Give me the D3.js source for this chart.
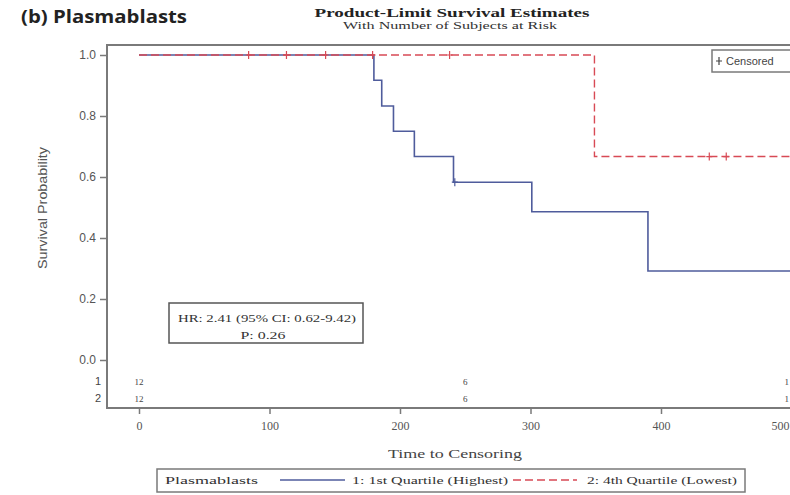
<!DOCTYPE html>
<html>
<head>
<meta charset="utf-8">
<script src="https://cdn.jsdelivr.net/npm/d3@7"></script>
<style>
  html, body { margin: 0; padding: 0; background: #fff; }
  svg { display: block; }
</style>
</head>
<body>
<svg id="chart" width="790" height="495"></svg>
<script>
// Kaplan-Meier step data (time, survival) per group
const group1Times = [0, 180, 186, 195, 211, 241, 301, 390, 520];
const group1Surv  = [1.0, 0.917, 0.833, 0.75, 0.667, 0.583, 0.486, 0.292, 0.292];
const group2Times = [0, 349, 520];
const group2Surv  = [1.0, 0.667, 0.667];

// censored observations
const group1CensorTimes = [242];
const group1CensorSurv  = [0.583];
const group2CensorTimes = [84, 113, 143, 179, 238, 437, 450];
const group2CensorSurv  = [1.0, 1.0, 1.0, 1.0, 1.0, 0.667, 0.667];

// numbers at risk
const riskTimes  = [0, 250, 500];
const riskGroup1 = ["12", "6", "1"];
const riskGroup2 = ["12", "6", "1"];

const xTicks = [0, 100, 200, 300, 400, 500];
const yTicks = [0.0, 0.2, 0.4, 0.6, 0.8, 1.0];

const groupLabels = ["1: 1st Quartile (Highest)", "2: 4th Quartile (Lowest)"];
const blue = "#4f5c9c";
const red  = "#d84a55";
const frameColor = "#7a7a7a";

const svg = d3.select("#chart");

const x = d3.scaleLinear().domain([0, 500]).range([139, 791.5]);
const y = d3.scaleLinear().domain([0, 1]).range([360, 55]);

const frameLeft = 107, frameTop = 45, frameBottom = 408, frameRight = 830;
const edge = 789; // labels at the last tick are kept inside the page

// plot frame
svg.append("rect")
  .attr("x", frameLeft).attr("y", frameTop)
  .attr("width", frameRight - frameLeft).attr("height", frameBottom - frameTop)
  .attr("fill", "none").attr("stroke", frameColor).attr("stroke-width", 2);

// y axis
const yAxis = d3.axisLeft(y).tickValues(yTicks).tickFormat(d3.format(".1f")).tickSize(7).tickPadding(4);
const gy = svg.append("g").attr("transform", `translate(${frameLeft},0)`).call(yAxis);
gy.select(".domain").remove();
gy.selectAll(".tick line").attr("stroke", frameColor).attr("stroke-width", 1.5);
gy.selectAll(".tick text").attr("fill", "#555").style("font-family", "Liberation Sans, Arial, sans-serif").style("font-size", "12px");

// x axis
const xAxis = d3.axisBottom(x).tickValues(xTicks).tickSize(6).tickPadding(7);
const gx = svg.append("g").attr("transform", `translate(0,${frameBottom})`).call(xAxis);
gx.select(".domain").remove();
gx.selectAll(".tick line").attr("stroke", frameColor).attr("stroke-width", 1.5);
gx.selectAll(".tick text").attr("fill", "#555").style("font-family", "Liberation Serif, serif").style("font-size", "12px");
gx.selectAll(".tick").filter(d => x(d) > edge - 12).select("text")
  .attr("text-anchor", "end").attr("x", edge - x(500));

// axis titles
svg.append("text")
  .attr("transform", "translate(47,208) rotate(-90)")
  .attr("text-anchor", "middle")
  .attr("fill", "#555")
  .attr("textLength", 122).attr("lengthAdjust", "spacingAndGlyphs")
  .style("font-family", "Liberation Sans, Arial, sans-serif")
  .style("font-size", "13px")
  .text("Survival Probability");

svg.append("text")
  .attr("x", 455).attr("y", 458)
  .attr("text-anchor", "middle")
  .attr("fill", "#444")
  .attr("textLength", 134).attr("lengthAdjust", "spacingAndGlyphs")
  .style("font-family", "Liberation Serif, serif")
  .style("font-size", "12px")
  .text("Time to Censoring");

// titles
svg.append("text")
  .attr("x", 21).attr("y", 23)
  .attr("fill", "#222")
  .attr("textLength", 166).attr("lengthAdjust", "spacingAndGlyphs")
  .style("font-family", "Open Sans, sans-serif")
  .style("font-weight", "bold")
  .style("font-size", "18px")
  .text("(b) Plasmablasts");

svg.append("text")
  .attr("x", 452).attr("y", 17)
  .attr("text-anchor", "middle")
  .attr("fill", "#222")
  .attr("textLength", 275).attr("lengthAdjust", "spacingAndGlyphs")
  .style("font-family", "Liberation Serif, serif")
  .style("font-weight", "bold")
  .style("font-size", "13px")
  .text("Product-Limit Survival Estimates");

svg.append("text")
  .attr("x", 450).attr("y", 29)
  .attr("text-anchor", "middle")
  .attr("fill", "#333")
  .attr("textLength", 214).attr("lengthAdjust", "spacingAndGlyphs")
  .style("font-family", "Liberation Serif, serif")
  .style("font-size", "10px")
  .text("With Number of Subjects at Risk");

// clip survival curves to plot area
svg.append("clipPath").attr("id", "plotClip")
  .append("rect").attr("x", frameLeft).attr("y", frameTop)
  .attr("width", frameRight - frameLeft).attr("height", frameBottom - frameTop);

const plot = svg.append("g").attr("clip-path", "url(#plotClip)");

const stepLine = d3.line().x(d => x(d[0])).y(d => y(d[1])).curve(d3.curveStepAfter);

const g1 = group1Times.map((t, i) => [t, group1Surv[i]]);
const g2 = group2Times.map((t, i) => [t, group2Surv[i]]);

plot.append("path").datum(g1)
  .attr("d", stepLine).attr("fill", "none")
  .attr("stroke", blue).attr("stroke-width", 1.6);

plot.append("path").datum(g2)
  .attr("d", stepLine).attr("fill", "none")
  .attr("stroke", red).attr("stroke-width", 1.4)
  .attr("stroke-dasharray", "8,4");

// censor markers (+)
function plus(g, cx, cy, color) {
  g.append("path")
    .attr("d", `M${cx - 3},${cy}H${cx + 3}M${cx},${cy - 4}V${cy + 4}`)
    .attr("stroke", color).attr("stroke-width", 1.2).attr("fill", "none");
}
group1CensorTimes.forEach((t, i) => plus(plot, x(t), y(group1CensorSurv[i]), blue));
group2CensorTimes.forEach((t, i) => plus(plot, x(t), y(group2CensorSurv[i]), red));

// censored legend box
svg.append("rect")
  .attr("x", 712).attr("y", 50).attr("width", 100).attr("height", 22)
  .attr("fill", "#fff").attr("stroke", frameColor).attr("stroke-width", 1.5);
plus(svg, 719, 61, "#444");
svg.append("text")
  .attr("x", 726).attr("y", 65)
  .attr("fill", "#444")
  .style("font-family", "Liberation Sans, Arial, sans-serif")
  .style("font-size", "11px")
  .text("Censored");

// hazard ratio box
svg.append("rect")
  .attr("x", 169).attr("y", 303).attr("width", 194).attr("height", 40)
  .attr("fill", "#fff").attr("stroke", "#555").attr("stroke-width", 1.5);
svg.append("text")
  .attr("x", 267).attr("y", 322).attr("text-anchor", "middle")
  .attr("fill", "#333")
  .attr("textLength", 178).attr("lengthAdjust", "spacingAndGlyphs")
  .style("font-family", "Liberation Serif, serif").style("font-size", "11px")
  .text("HR: 2.41 (95% CI: 0.62-9.42)");
svg.append("text")
  .attr("x", 263).attr("y", 339).attr("text-anchor", "middle")
  .attr("fill", "#333")
  .attr("textLength", 45).attr("lengthAdjust", "spacingAndGlyphs")
  .style("font-family", "Liberation Serif, serif").style("font-size", "11px")
  .text("P: 0.26");

// numbers at risk
[["1", riskGroup1, 385], ["2", riskGroup2, 402]].forEach(([label, vals, yy]) => {
  svg.append("text")
    .attr("x", 101).attr("y", yy).attr("text-anchor", "end")
    .attr("fill", "#444")
    .style("font-family", "Liberation Sans, Arial, sans-serif").style("font-size", "11px")
    .text(label);
  vals.forEach((v, i) => {
    const px = x(riskTimes[i]);
    const atEdge = px > edge - 6;
    svg.append("text")
      .attr("x", atEdge ? edge : px).attr("y", yy)
      .attr("text-anchor", atEdge ? "end" : "middle")
      .attr("fill", "#444")
      .style("font-family", "Liberation Serif, serif").style("font-size", "9px")
      .text(v);
  });
});

// group legend
svg.append("rect")
  .attr("x", 157).attr("y", 469).attr("width", 588).attr("height", 23)
  .attr("fill", "#fff").attr("stroke", frameColor).attr("stroke-width", 1.5);
const legFont = "Liberation Serif, serif";
svg.append("text").attr("x", 165).attr("y", 484).attr("fill", "#333")
  .attr("textLength", 93).attr("lengthAdjust", "spacingAndGlyphs")
  .style("font-family", legFont).style("font-size", "10px").text("Plasmablasts");
svg.append("line").attr("x1", 280).attr("x2", 345).attr("y1", 480).attr("y2", 480)
  .attr("stroke", blue).attr("stroke-width", 1.4);
svg.append("text").attr("x", 352).attr("y", 484).attr("fill", "#333")
  .attr("textLength", 156).attr("lengthAdjust", "spacingAndGlyphs")
  .style("font-family", legFont).style("font-size", "10px").text(groupLabels[0]);
svg.append("line").attr("x1", 513).attr("x2", 577).attr("y1", 480).attr("y2", 480)
  .attr("stroke", red).attr("stroke-width", 1.4).attr("stroke-dasharray", "8,4");
svg.append("text").attr("x", 587).attr("y", 484).attr("fill", "#333")
  .attr("textLength", 150).attr("lengthAdjust", "spacingAndGlyphs")
  .style("font-family", legFont).style("font-size", "10px").text(groupLabels[1]);
</script>
</body>
</html>
